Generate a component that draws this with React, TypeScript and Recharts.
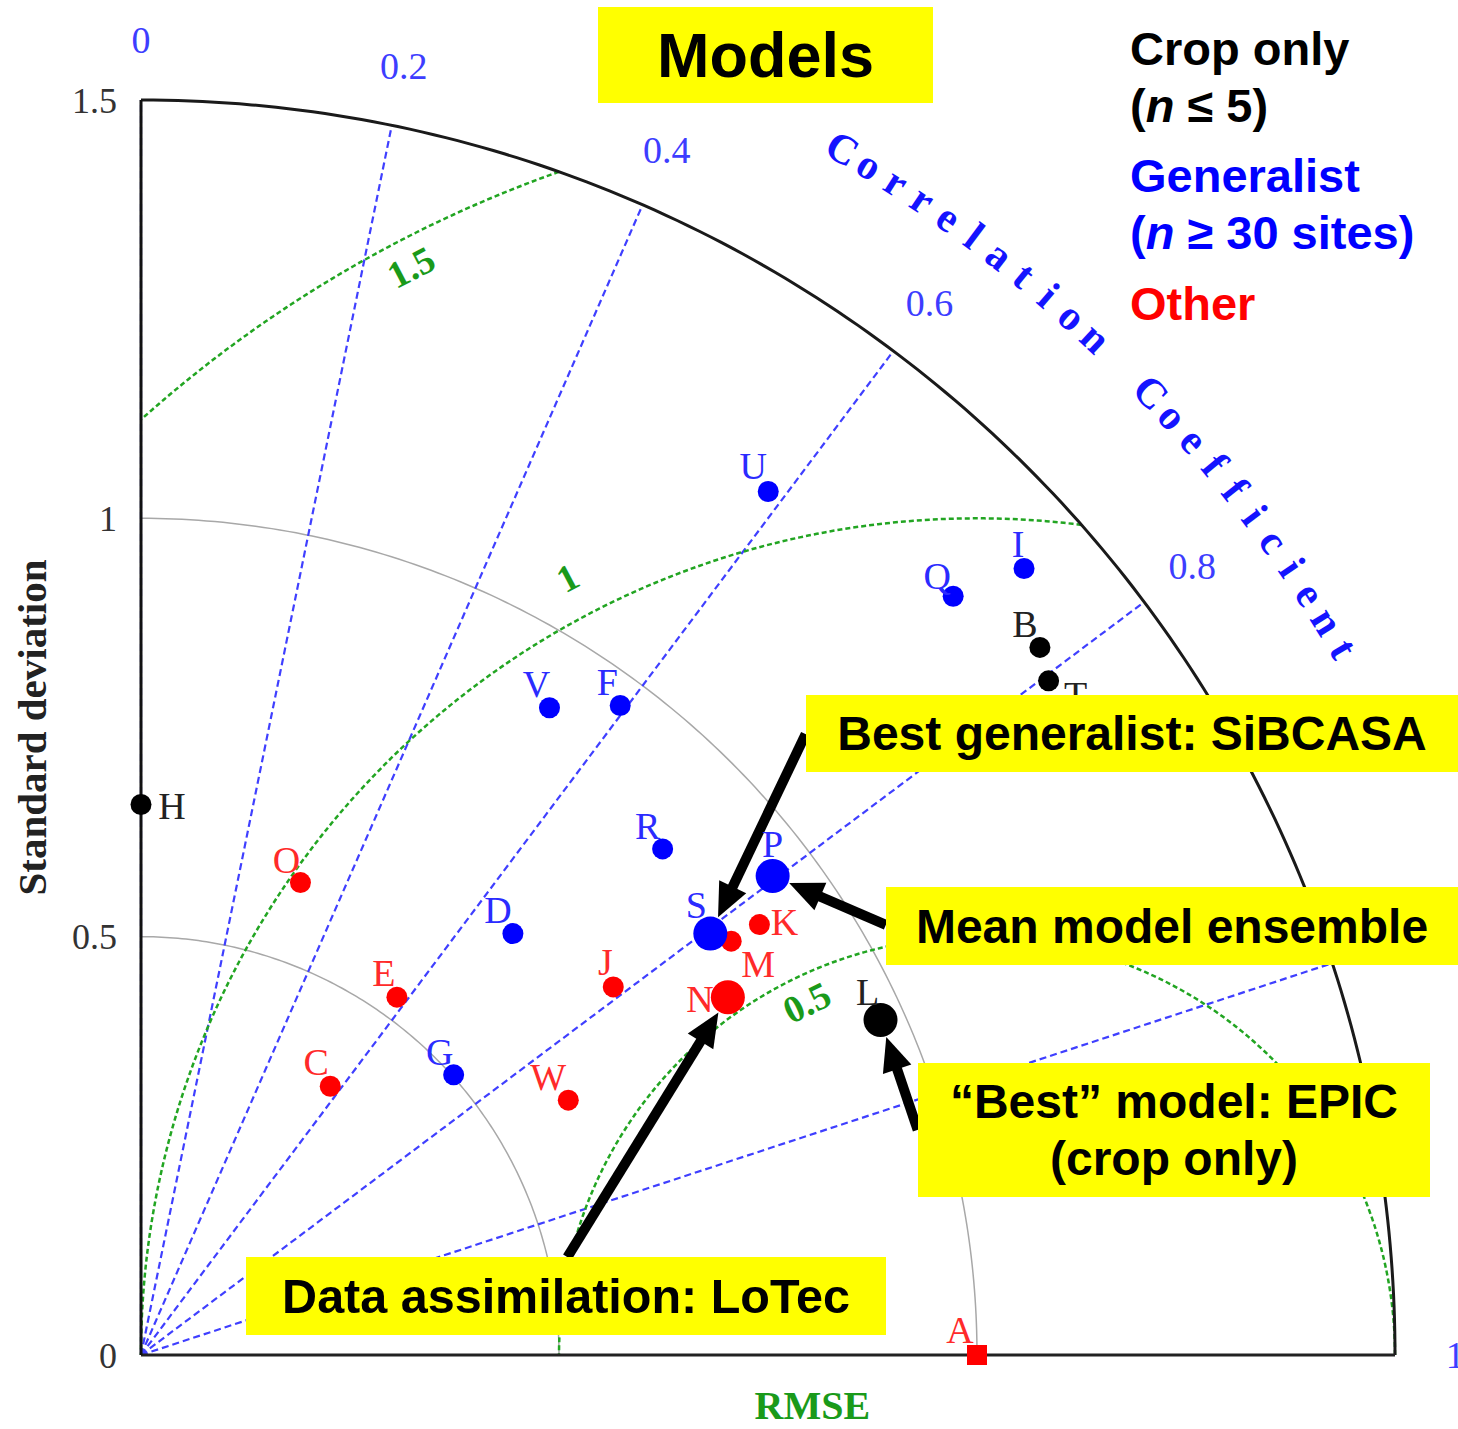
import React from 'react';
import {
  ComposedChart,
  Line,
  ReferenceDot,
  ReferenceLine,
  Scatter,
  XAxis,
  YAxis,
} from 'recharts';

// Taylor diagram of model skill, std dev normalized to observations (= 1)
const models = ['A', 'B', 'C', 'D', 'E', 'F', 'G', 'H', 'I', 'J', 'K', 'L', 'M', 'N', 'O', 'P', 'Q', 'R', 'S', 'T', 'U', 'V', 'W'];
const stdDev = [1.0, 1.368, 0.393, 0.672, 0.526, 0.965, 0.502, 0.658, 1.414, 0.716, 0.901, 0.971, 0.862, 0.822, 0.596, 0.948, 1.329, 0.869, 0.847, 1.352, 1.276, 0.915, 0.595];
const correlation = [1.0, 0.786, 0.576, 0.662, 0.582, 0.594, 0.745, 0.0, 0.747, 0.789, 0.821, 0.911, 0.819, 0.854, 0.32, 0.797, 0.731, 0.718, 0.804, 0.803, 0.588, 0.534, 0.859];
const modelGroup = ['other', 'crop', 'other', 'generalist', 'other', 'generalist', 'generalist', 'crop', 'generalist', 'other', 'other', 'crop', 'other', 'other', 'other', 'generalist', 'generalist', 'generalist', 'generalist', 'crop', 'generalist', 'generalist', 'other'];
const highlighted = ['S', 'P', 'N', 'L'];

const refStd = 1;
const stdMax = 1.5;
const stdTicks = [0, 0.5, 1, 1.5];
const stdGrid = [0.5, 1];
const corrRays = [0, 0.2, 0.4, 0.6, 0.8, 0.95];
const corrTicks = [0, 0.2, 0.4, 0.6, 0.8, 1];
const rmseLevels = [0.5, 1, 1.5];
const rmseTickLabels = ['0.5', '1', '1.5'];

// callout arrows: tail (std-dev plane coords) -> model
const callouts = [
  { target: 'S', tail: [0.795, 0.742] },
  { target: 'P', tail: [0.891, 0.514] },
  { target: 'N', tail: [0.51, 0.117] },
  { target: 'L', tail: [0.929, 0.269] },
];

const W = 1458;
const H = 1429;
const SERIF = '"Liberation Serif", "Times New Roman", serif';
const SANS = '"Liberation Sans", Arial, Helvetica, sans-serif';

const groupColor: Record<string, string> = { crop: '#000000', generalist: '#0000ff', other: '#ff0000' };
const groupLabel: Record<string, string> = { crop: '#222222', generalist: '#2b2bff', other: '#ff2a2a' };

// letter placement around each marker (px)
const labelNudge: Record<string, [number, number]> = {
  A: [-17, -25], B: [-15, -23], C: [-14, -24], D: [-15, -24], E: [-13, -24], F: [-13, -23],
  G: [-14, -23], H: [31, 2], I: [-6, -24], J: [-8, -25], K: [25, -3], L: [-13, -28],
  M: [27, 23], N: [-28, 2], O: [-14, -23], P: [0, -32], Q: [-16, -20], R: [-15, -23],
  S: [-14, -29], T: [27, 14], U: [-15, -25], V: [-13, -24], W: [-20, -23],
};

const polar = (s: number, r: number) => ({
  x: Math.max(0, s * r),
  y: Math.max(0, s * Math.sqrt(Math.max(0, 1 - r * r))),
});

const arc = (cx: number, rad: number, fromDeg: number, toDeg: number, steps = 160) =>
  Array.from({ length: steps + 1 }, (_, i) => {
    const t = ((fromDeg + ((toDeg - fromDeg) * i) / steps) * Math.PI) / 180;
    return { x: Math.max(0, cx + rad * Math.cos(t)), y: Math.max(0, rad * Math.sin(t)) };
  });

const clamp1 = (v: number) => Math.max(-1, Math.min(1, v));
const deg = (rad: number) => (rad * 180) / Math.PI;

// RMSE contour around the reference point, kept inside the quadrant
const rmseArc = (d: number) => {
  const xOuter = (stdMax * stdMax - d * d + refStd * refStd) / (2 * refStd);
  const from = deg(Math.acos(clamp1((xOuter - refStd) / d)));
  const to = deg(Math.acos(clamp1(-refStd / d)));
  return arc(refStd, d, from, to);
};

const modelPoints = models.map((name, i) => ({
  name,
  group: modelGroup[i],
  big: highlighted.includes(name),
  ...polar(stdDev[i], correlation[i]),
}));

const renderModel = (p: any) => {
  const d = p.payload;
  const { cx, cy } = p;
  const fill = groupColor[d.group];
  const [dx, dy] = labelNudge[d.name] ?? [-14, -24];
  return (
    <g>
      {d.name === 'A' ? (
        <rect x={cx - 10} y={cy - 10} width={20} height={20} fill={fill} />
      ) : (
        <circle cx={cx} cy={cy} r={d.big ? 17 : 10.5} fill={fill} />
      )}
      <text
        x={cx + dx}
        y={cy + dy}
        textAnchor="middle"
        dominantBaseline="central"
        fontFamily={SERIF}
        fontSize={38}
        fill={groupLabel[d.group]}
      >
        {d.name}
      </text>
    </g>
  );
};

const textDot = (
  key: string,
  x: number,
  y: number,
  text: string,
  style: React.SVGProps<SVGTextElement>,
  rotate = 0,
) => (
  <ReferenceDot
    key={key}
    x={x}
    y={y}
    r={0}
    ifOverflow="visible"
    shape={(p: any) => (
      <text
        x={p.cx}
        y={p.cy}
        transform={rotate ? `rotate(${rotate} ${p.cx} ${p.cy})` : undefined}
        textAnchor="middle"
        dominantBaseline="central"
        {...style}
      >
        {text}
      </text>
    )}
  />
);

const arrowShape = (gap: number) => (p: any) => {
  const { x1, y1, x2, y2 } = p;
  const len = Math.hypot(x2 - x1, y2 - y1);
  const ux = (x2 - x1) / len;
  const uy = (y2 - y1) / len;
  const tx = x2 - ux * gap;
  const ty = y2 - uy * gap;
  const head = 34;
  const half = 15;
  const bx = tx - ux * head;
  const by = ty - uy * head;
  return (
    <g>
      <line x1={x1} y1={y1} x2={bx + ux * 2} y2={by + uy * 2} stroke="#000" strokeWidth={10} />
      <polygon
        points={`${tx},${ty} ${bx - uy * half},${by + ux * half} ${bx + uy * half},${by - ux * half}`}
        fill="#000"
      />
    </g>
  );
};

// "Correlation Coefficient" set letter by letter along the outer rim
const corrTitle = [
  { word: 'Correlation', start: 59.8, step: 1.3 },
  { word: 'Coefficient', start: 43.6, step: 1.32 },
];
const titleRadius = 1.668;

const boxes = [
  { left: 598, top: 7, width: 335, height: 96, size: 63, lines: ['Models'] },
  { left: 806, top: 695, width: 652, height: 77, size: 48, lines: ['Best generalist: SiBCASA'] },
  { left: 886, top: 887, width: 572, height: 78, size: 48, lines: ['Mean model ensemble'] },
  { left: 918, top: 1063, width: 512, height: 134, size: 48, lines: ['\u201CBest\u201D model: EPIC', '(crop only)'] },
  { left: 246, top: 1257, width: 640, height: 78, size: 48.5, lines: ['Data assimilation: LoTec'] },
];

export default function App() {
  return (
    <div style={{ position: 'absolute', left: 0, top: 0, width: W, height: H, background: '#fff', overflow: 'hidden' }}>
      <ComposedChart width={W} height={H} margin={{ top: 100, right: 63, bottom: 74, left: 81 }}>
        <XAxis type="number" dataKey="x" domain={[0, stdMax]} hide />
        <YAxis
          type="number"
          dataKey="y"
          domain={[0, stdMax]}
          ticks={stdTicks}
          width={60}
          tickLine={false}
          tickSize={0}
          tickMargin={24}
          axisLine={{ stroke: '#111', strokeWidth: 3 }}
          tick={{ fill: '#333', fontSize: 36, fontFamily: SERIF }}
        />

        {stdGrid.map((s) => (
          <Line
            key={`std-${s}`}
            data={arc(0, s, 0, 90)}
            dataKey="y"
            type="linear"
            dot={false}
            activeDot={false}
            stroke="#a8a8a8"
            strokeWidth={1.5}
            isAnimationActive={false}
          />
        ))}

        {corrRays.map((c) => (
          <Line
            key={`ray-${c}`}
            data={[{ x: 0, y: 0 }, polar(stdMax, c)]}
            dataKey="y"
            type="linear"
            dot={false}
            activeDot={false}
            stroke="#3f3fff"
            strokeWidth={2.2}
            strokeDasharray="7 4"
            isAnimationActive={false}
          />
        ))}

        {rmseLevels.map((d) => (
          <Line
            key={`rmse-${d}`}
            data={rmseArc(d)}
            dataKey="y"
            type="linear"
            dot={false}
            activeDot={false}
            stroke="#22a522"
            strokeWidth={2.5}
            strokeDasharray="5 3"
            isAnimationActive={false}
          />
        ))}

        <Line
          data={arc(0, stdMax, 0, 90)}
          dataKey="y"
          type="linear"
          dot={false}
          activeDot={false}
          stroke="#1a1a1a"
          strokeWidth={3}
          isAnimationActive={false}
        />
        <ReferenceLine
          segment={[{ x: 0, y: 0 }, { x: stdMax, y: 0 }]}
          stroke="#222"
          strokeWidth={3}
          ifOverflow="visible"
        />

        <Scatter data={modelPoints} shape={renderModel} isAnimationActive={false} />

        {callouts.map((c) => {
          const m = modelPoints.find((p) => p.name === c.target)!;
          return (
            <ReferenceLine
              key={`arrow-${c.target}`}
              segment={[{ x: c.tail[0], y: c.tail[1] }, { x: m.x, y: m.y }]}
              ifOverflow="visible"
              shape={arrowShape(m.big ? 18 : 12)}
            />
          );
        })}

        {corrTicks.map((c) => {
          const p = polar(1.572, c);
          return textDot(`ct-${c}`, p.x, p.y, String(c), { fontFamily: SERIF, fontSize: 38, fill: '#3d3dff' });
        })}

        {corrTitle.flatMap(({ word, start, step }) =>
          word.split('').map((ch, i) => {
            const a = start - step * i;
            const t = (a * Math.PI) / 180;
            return textDot(
              `title-${word}-${i}`,
              titleRadius * Math.cos(t),
              titleRadius * Math.sin(t),
              ch,
              { fontFamily: SERIF, fontWeight: 700, fontSize: 42, fill: '#1414ff' },
              90 - a,
            );
          }),
        )}

        {rmseLevels.map((d, i) => {
          const rad = [0.468, 1.05, 1.466][i];
          const a = [115.8, 117.8, 117.5][i];
          const t = (a * Math.PI) / 180;
          return textDot(
            `rl-${d}`,
            refStd + rad * Math.cos(t),
            rad * Math.sin(t),
            rmseTickLabels[i],
            { fontFamily: SERIF, fontWeight: 700, fontSize: 38, fill: '#1a9a1a' },
            90 - a,
          );
        })}

        {textDot('rmse-title', 0.803, -0.06, 'RMSE', { fontFamily: SERIF, fontWeight: 700, fontSize: 40, fill: '#1a9a1a' })}
        {textDot('std-title', -0.13, 0.75, 'Standard deviation', { fontFamily: SERIF, fontWeight: 700, fontSize: 41, fill: '#222' }, -90)}
      </ComposedChart>

      {boxes.map((b) => (
        <div
          key={b.lines[0]}
          style={{
            position: 'absolute',
            left: b.left,
            top: b.top,
            width: b.width,
            height: b.height,
            background: '#ffff00',
            display: 'flex',
            flexDirection: 'column',
            alignItems: 'center',
            justifyContent: 'center',
            fontFamily: SANS,
            fontWeight: 700,
            fontSize: b.size,
            lineHeight: '57px',
            color: '#000',
            whiteSpace: 'nowrap',
          }}
        >
          {b.lines.map((l) => (
            <div key={l}>{l}</div>
          ))}
        </div>
      ))}

      <div style={{ position: 'absolute', left: 1130, top: 20, fontFamily: SANS, fontWeight: 700, fontSize: 47, lineHeight: '57px', whiteSpace: 'nowrap' }}>
        <div style={{ color: '#000' }}>Crop only</div>
        <div style={{ color: '#000' }}>
          (<i>n</i> ≤ 5)
        </div>
        <div style={{ color: '#0000ff', marginTop: 13 }}>Generalist</div>
        <div style={{ color: '#0000ff' }}>
          (<i>n</i> ≥ 30 sites)
        </div>
        <div style={{ color: '#ff0000', marginTop: 14 }}>Other</div>
      </div>
    </div>
  );
}
